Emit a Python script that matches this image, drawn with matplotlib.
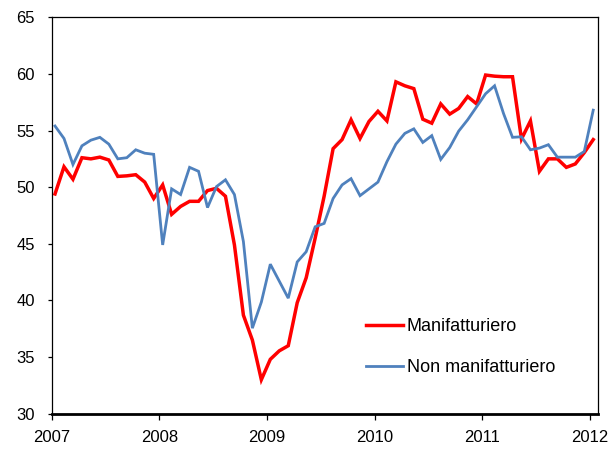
import numpy as np
from matplotlib import pyplot as plt

plt.rcParams['font.family'] = ['Liberation Sans', 'DejaVu Sans']

# monthly data, gen 2007 - gen 2012
years = ["2007", "2008", "2009", "2010", "2011", "2012"]
manifatturiero = [
    49.4, 51.8, 50.7, 52.6, 52.5, 52.65, 52.4, 50.95, 51.0, 51.1,
    50.45, 49.0, 50.2, 47.6, 48.3, 48.75, 48.75, 49.7, 49.9, 49.2,
    44.9, 38.7, 36.5, 33.0, 34.8, 35.55, 36.0, 39.8, 42.0, 45.5,
    49.2, 53.4, 54.2, 55.95, 54.3, 55.8, 56.7, 55.85, 59.3, 58.95,
    58.7, 56.0, 55.65, 57.35, 56.45, 56.95, 58.0, 57.35, 59.9, 59.8,
    59.75, 59.75, 54.25, 55.85, 51.4, 52.5, 52.5, 51.75, 52.05, 53.05, 54.2,
]
non_manifatturiero = [
    55.4, 54.3, 52.0, 53.65, 54.15, 54.4, 53.8, 52.5, 52.6, 53.3,
    53.0, 52.9, 44.9, 49.85, 49.35, 51.75, 51.4, 48.2, 50.05, 50.65,
    49.35, 45.2, 37.55, 39.85, 43.2, 41.7, 40.2, 43.4, 44.3, 46.5,
    46.8, 49.0, 50.2, 50.75, 49.25, 49.85, 50.45, 52.25, 53.8, 54.75,
    55.15, 53.95, 54.55, 52.45, 53.5, 54.95, 55.95, 57.1, 58.25, 58.95,
    56.5, 54.4, 54.45, 53.3, 53.45, 53.75, 52.65, 52.65, 52.65, 53.15, 56.8,
]

months = np.arange(len(manifatturiero)) + 0.37

fig = plt.figure(figsize=(6.14, 4.5), dpi=100)
ax = fig.add_axes([0.0842, 0.0807, 0.8893, 0.8809])

ax.plot(months, manifatturiero, color='#FF0000', lw=2.5, label='Manifatturiero',
        solid_joinstyle='miter')
ax.plot(months, non_manifatturiero, color='#4F81BD', lw=2.0, label='Non manifatturiero',
        solid_joinstyle='miter')

ax.set_ylim(30, 65)
ax.set_yticks(np.arange(30, 66, 5))
ax.set_xlim(0, 60.87)
ax.set_xticks(np.arange(0, 61, 12))
ax.set_xticklabels(years)

for side in ['top', 'right', 'left']:
    ax.spines[side].set_linewidth(0.9)
ax.spines['bottom'].set_linewidth(2.0)
ax.tick_params(axis='y', direction='out', length=3, width=0.9, pad=9, labelsize=12)
ax.tick_params(axis='x', direction='out', length=4, width=0.9, pad=8, labelsize=12)

ax.legend(loc='center left', bbox_to_anchor=(0.576, 0.168), frameon=False,
          fontsize=13, handlelength=2.05, handletextpad=0.2, labelspacing=1.3,
          borderpad=0, borderaxespad=0)

fig.savefig('out.png', dpi=100)
